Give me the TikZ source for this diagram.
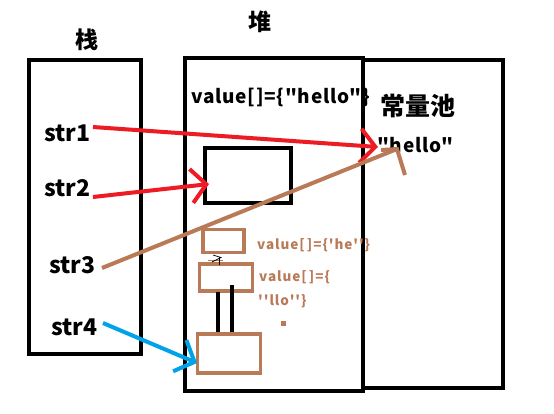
\documentclass[tikz,border=0pt]{standalone}
\usepackage{fontspec}
\newfontfamily\cjk{Noto Sans CJK SC}
\newfontfamily\cjkwa{Noto Sans CJK SC}[LetterSpace=4]
\newfontfamily\cjkwb{Noto Sans CJK SC}[LetterSpace=7]
\usetikzlibrary{arrows.meta}
\definecolor{pred}{HTML}{ED1C24}
\definecolor{pbrown}{HTML}{B97A57}
\definecolor{pblue}{HTML}{00A2E8}
\begin{document}
\begin{tikzpicture}[x=1pt,y=-1pt,
  box/.style={draw=black, line width=4.5pt, minimum width=#1, inner sep=0pt},
  bbox/.style={draw=pbrown, line width=3.5pt, inner sep=0pt},
  title/.style={font=\cjk\bfseries\fontsize{23}{25}\selectfont, inner sep=0pt},
  strlbl/.style={font=\cjk\bfseries\fontsize{23}{25}\selectfont, inner sep=0pt, anchor=west},
  blbl/.style={font=\cjkwa\bfseries\fontsize{19}{21}\selectfont, inner sep=0pt, anchor=west},
  brlbl/.style={font=\cjkwb\bfseries\fontsize{13.5}{15}\selectfont, text=pbrown, inner sep=0pt, anchor=west},
  redarrow/.style={draw=pred, line width=4pt, -{Straight Barb[length=15pt,width=34pt]}},
  bluearrow/.style={draw=pblue, line width=4pt, -{Straight Barb[length=16pt,width=34pt]}},
  brownline/.style={draw=pbrown, line width=4pt},
  pair/.style={draw=black, line width=4.5pt}
]
\useasboundingbox (0,0) rectangle (554,413);
\fill[white] (0,0) rectangle (554,413);

% titles
\node[title] (zhan) at (87,40) {栈};
\node[title] (dui) at (260,22) {堆};

% main boxes
\node[box=112pt, minimum height=294pt] (stack) at (85,207) {};
\node[box=178pt, minimum height=333pt] (heap) at (274,224.5) {};
\node[box=140pt, minimum height=328pt] (pool) at (433,224) {};
\node[box=86pt, minimum height=55pt] (blackbox) at (248,175.5) {};

% brown boxes
\node[bbox, minimum width=41pt, minimum height=23pt] (boxA) at (223.5,241) {};
\node[bbox, minimum width=53pt, minimum height=27pt] (boxB) at (226,277.5) {};
\node[bbox, minimum width=63pt, minimum height=39pt] (boxC) at (229,353.5) {};

% texts
\node[blbl] (valhello) at (191,97) {value[]=\{"hello"\}};
\node[title, font=\cjk\bfseries\fontsize{25}{27}\selectfont] (pooltitle) at (418,106) {常量池};
\node[blbl] (hello) at (377,145) {"hello"};

\node[strlbl] (str1) at (44,133) {str1};
\node[strlbl] (str2) at (44,188) {str2};
\node[strlbl] (str3) at (49,265) {str3};
\node[strlbl] (str4) at (51,327) {str4};

\node[brlbl] (valhe) at (257,245) {value[\,]=\{'he''\}};
\node[brlbl] (valllo1) at (259,277) {value[\,]=\{};
\node[brlbl] (valllo2) at (258,301) {''llo''\}};
\fill[pbrown] (280.5,320.5) rectangle (286,326) coordinate (dot);

% connectors
\coordinate (s1) at (93,127);
\coordinate (t1) at (378,147);
\draw[redarrow] (s1) -- (t1);
\coordinate (s2) at (93,197);
\coordinate (t2) at (209,184);
\draw[redarrow] (s2) -- (t2);

\coordinate (s3) at (102,268);
\coordinate (t3) at (397,149);
\coordinate (t3a) at (381,150);
\coordinate (t3b) at (405,175);
\draw[brownline] (s3) -- (t3);
\draw[brownline] (t3a) -- (t3) -- (t3b);

\coordinate (s4) at (103,323);
\coordinate (t4) at (197,363);
\draw[bluearrow] (s4) -- (t4);

% link lines between boxB and boxC
\draw[pair] (218,292) -- (218,332);
\draw[pair] (232,285) -- (232,332);

% scribble
\draw[pbrown, line width=0.8pt] (208,260) -- (223,260);
\draw[black, line width=0.7pt] (213,255) -- (221,257.5) -- (212,262);
\draw[black, line width=0.7pt] (219,257) -- (219,265);
\end{tikzpicture}
\end{document}
